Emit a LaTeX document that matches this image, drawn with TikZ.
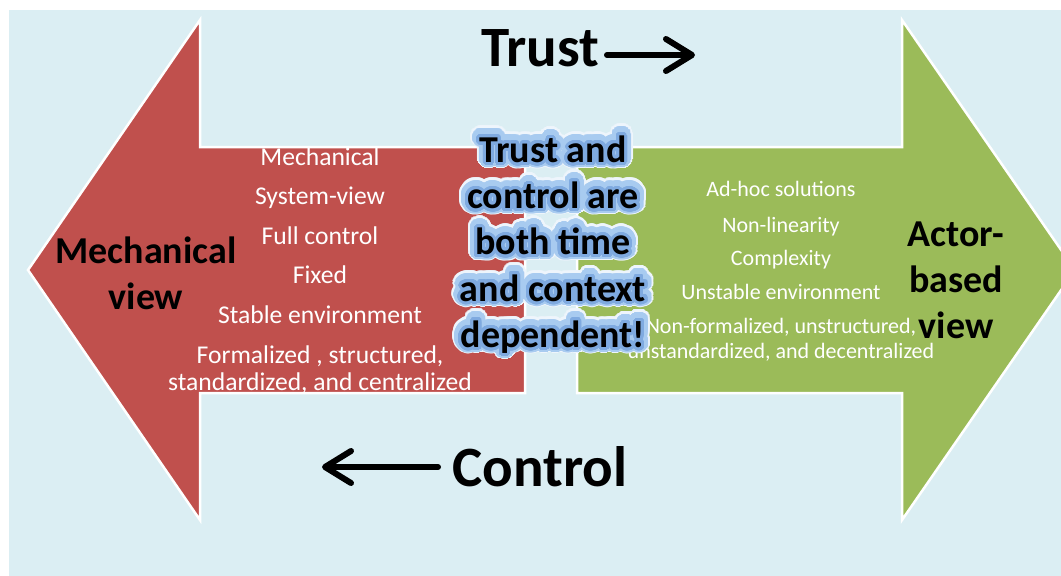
\documentclass[tikz,border=0pt]{standalone}
\usepackage{fontspec}
\setmainfont{Carlito}
\usepackage[copies]{contour}
\usetikzlibrary{arrows.meta}
\definecolor{bgblue}{HTML}{DBEEF3}
\definecolor{redA}{HTML}{C0504D}
\definecolor{greenA}{HTML}{9BBB59}
\definecolor{glowA}{HTML}{EEF5FC}
\definecolor{glowB}{HTML}{A8CBF0}
\definecolor{glowC}{HTML}{7FAAE0}
\contournumber{48}
\newcommand\gline[3]{\contourlength{#2}\contour{#1}{#3}}
\newcommand\glowlines[2]{\gline{#1}{#2}{Trust and}\\\gline{#1}{#2}{control are}\\\gline{#1}{#2}{both time}\\\gline{#1}{#2}{and context}\\\gline{#1}{#2}{dependent!}}
\begin{document}
\begin{tikzpicture}[x=1pt,y=-1pt,
  arrowshape/.style={line width=2.5pt, draw=white, line join=miter},
  redlist/.style={anchor=base, text=white, inner sep=0pt, font=\fontsize{25.6}{28}\selectfont},
  greenlist/.style={anchor=base, text=white, inner sep=0pt, font=\fontsize{22}{25}\selectfont},
  viewlabel/.style={font=\bfseries\fontsize{38}{46}\selectfont, align=center, text=black, inner sep=0pt},
  bigword/.style={anchor=base, inner sep=0pt, font=\bfseries\fontsize{57}{62}\selectfont},
  bigarrow/.style={line width=6pt, line cap=round, -{Straight Barb[length=26pt,width=32pt,round]}},
  centre/.style={font=\bfseries\fontsize{38}{46.2}\selectfont, align=center, inner sep=0pt}]
\useasboundingbox (0,0) rectangle (1061,576);
\clip (0,0) rectangle (1061,576);
\fill[bgblue] (9,10) rectangle (1061,576);
% arrows
\draw[arrowshape, fill=redA] (28,270) -- (200,20) -- (200,147) -- (525,147) -- (525,393) -- (200,393) -- (200,520) -- cycle;
\draw[arrowshape, fill=greenA] (577,147) -- (902,147) -- (902,20) -- (1075,270) -- (902,520) -- (902,393) -- (577,393) -- cycle;
% red list
\node[redlist] (r1) at (320,165) {Mechanical};
\node[redlist] (r2) at (320,204) {System-view};
\node[redlist] (r3) at (320,244) {Full control};
\node[redlist] (r4) at (320,283) {Fixed};
\node[redlist] (r5) at (320,323) {Stable environment};
\node[redlist] (r6) at (320,363) {Formalized , structured,};
\node[redlist] (r7) at (320,390) {standardized, and centralized};
% green list
\node[greenlist] (g1) at (781,196) {Ad-hoc solutions};
\node[greenlist] (g2) at (781,232) {Non-linearity};
\node[greenlist] (g3) at (781,265) {Complexity};
\node[greenlist] (g4) at (781,299) {Unstable environment};
\node[greenlist] (g5) at (781,333) {Non-formalized, unstructured,};
\node[greenlist] (g6) at (781,358) {unstandardized, and decentralized};
% view labels
\node[viewlabel] (mech) at (146,273) {Mechanical\\view};
\node[viewlabel] (actor) at (956,280) {Actor-\\based\\view};
% trust / control
\node[bigword] (trust) at (540,66) {Trust};
\node[bigword] (control) at (540,486) {Control};
\coordinate (trA) at (607,55);
\coordinate (trB) at (695,55);
\coordinate (coA) at (438,467);
\coordinate (coB) at (322,467);
\draw[bigarrow] (trA) -- (trB);
\draw[bigarrow] (coA) -- (coB);
% centre glow text
\node[centre] (c1) at (553,246) {\glowlines{glowA}{9pt}};
\node[centre] (c2) at (553,246) {\glowlines{glowB}{7pt}};
\node[centre] (c3) at (553,246) {\glowlines{glowC}{3pt}};
\end{tikzpicture}
\end{document}
